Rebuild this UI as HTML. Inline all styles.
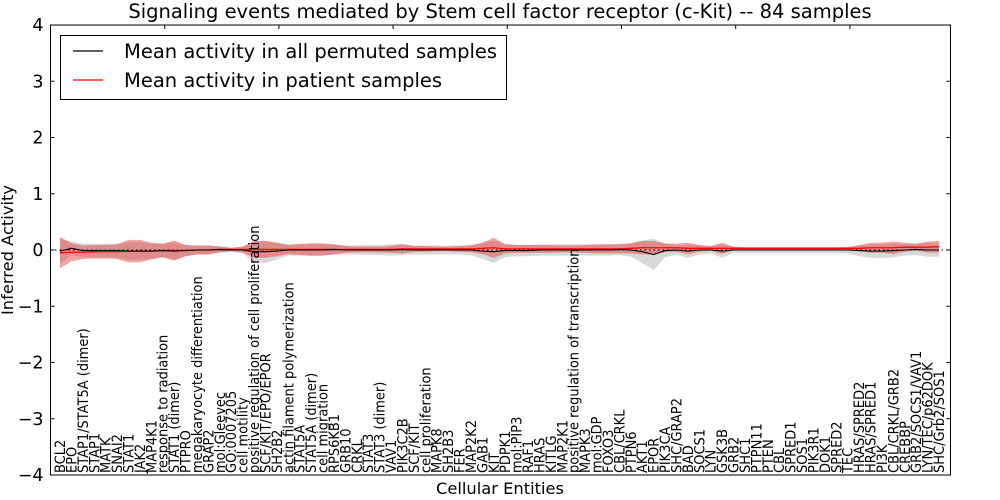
<!DOCTYPE html>
<html><head><meta charset="utf-8"><style>
html,body{margin:0;padding:0;background:#fff;}
svg{display:block;font-family:"DejaVu Sans","Liberation Sans",sans-serif;}
</style></head><body>
<svg id="chart" width="1000" height="500" viewBox="0 0 1000 500" xmlns="http://www.w3.org/2000/svg">
<rect x="0" y="0" width="1000" height="500" fill="#fff"/>
<text x="500" y="18" text-anchor="middle" font-size="19.5">Signaling events mediated by Stem cell factor receptor (c-Kit) -- 84 samples</text>
<g id="bands"></g>
<g id="lines"></g>
<g id="axes"></g>
<g id="xlabels"></g>
<text x="500" y="494" text-anchor="middle" font-size="16.3">Cellular Entities</text>
<text transform="translate(13,250) rotate(-90)" text-anchor="middle" font-size="16.3">Inferred Activity</text>
<g>
<rect x="60.5" y="35.5" width="446" height="64" fill="#fff" stroke="#000" stroke-width="1"/>
<line x1="73" y1="51" x2="103" y2="51" stroke="#000" stroke-width="1.2"/>
<text x="124" y="58" font-size="19.5">Mean activity in all permuted samples</text>
<line x1="73" y1="80" x2="103" y2="80" stroke="#f00" stroke-width="1.2"/>
<text x="124" y="87" font-size="19.5">Mean activity in patient samples</text>
</g>
</svg>
<script>
const categories = ["BCL2","EPO","STAP1/STAT5A (dimer)","STAP1","MATK","SNAI2","STAT1","JAK2","MAP4K1","response to radiation","STAT1 (dimer)","PTPRO","megakaryocyte differentiation","GRAP2","mol:Gleevec","GO:0007205","cell motility","positive regulation of cell proliferation","SCF/KIT/EPO/EPOR","SH2B2","actin filament polymerization","STAT5A","STAT5A (dimer)","cell migration","RPS6KB1","GRB10","CRKL","STAT3","STAT3 (dimer)","VAV1","PIK3C2B","SCF/KIT","cell proliferation","MAPK8","SH2B3","FER","MAP2K2","GAB1","KIT","PDPK1","mol:PIP3","RAF1","HRAS","KITLG","MAP2K1","positive regulation of transcription","MAPK3","mol:GDP","FOXO3","CBL/CRKL","PTPN6","AKT1","EPOR","PIK3CA","SHC/GRAP2","BAD","SOCS1","LYN","GSK3B","GRB2","SHC1","PTPN11","PTEN","CBL","SPRED1","SOS1","PIK3R1","DOK1","SPRED2","TEC","HRAS/SPRED2","HRAS/SPRED1","PI3K","CBL/CRKL/GRB2","CREBBP","GRB2/SOCS1/VAV1","LYN/TEC/p62DOK","SHC/Grb2/SOS1"];
const patientMean = [-0.05,-0.04,-0.04,-0.03,-0.03,-0.03,-0.02,-0.02,-0.02,-0.01,-0.01,-0.01,0,0,0.01,0.01,0.01,0.01,0.01,0.01,0.01,0.01,0.01,0.01,0.01,0.01,0.01,0.01,0.01,0.01,0.02,0.02,0.02,0.02,0.02,0.02,0.02,0.03,0.04,0.02,0.02,0.02,0.02,0.02,0.02,0.02,0.02,0.02,0.02,0.02,0.03,0.04,0.04,0.04,0.04,0.03,0.03,0.03,0.03,0.03,0.03,0.03,0.03,0.03,0.03,0.03,0.03,0.03,0.03,0.03,0.03,0.04,0.04,0.04,0.05,0.05,0.05,0.06];
const patientSpread = [0.28,0.16,0.12,0.12,0.12,0.13,0.2,0.2,0.15,0.12,0.18,0.1,0.08,0.08,0.05,0.03,0.05,0.15,0.15,0.12,0.08,0.1,0.11,0.11,0.09,0.06,0.05,0.05,0.05,0.06,0.08,0.05,0.05,0.04,0.04,0.05,0.06,0.1,0.18,0.08,0.07,0.07,0.07,0.07,0.06,0.06,0.07,0.08,0.08,0.08,0.09,0.12,0.12,0.08,0.07,0.1,0.06,0.04,0.1,0.03,0.02,0.02,0.02,0.02,0.02,0.02,0.02,0.02,0.02,0.02,0.05,0.09,0.09,0.11,0.08,0.06,0.1,0.1];
const permutedMean = [-0.02,0.03,-0.01,-0.01,-0.01,-0.01,-0.02,-0.02,-0.02,-0.01,-0.02,-0.01,0,0,0.01,0,0,-0.03,-0.03,-0.02,0,0,0,0,0.01,0,0,0,0,0,0.01,0,0,0,0,0,0,-0.02,-0.03,-0.01,-0.01,-0.01,0,0,0,0,0,0,0,0.01,0,-0.03,-0.08,-0.01,0,-0.02,0,0,-0.02,0,0,0,0,0,0,0,0,0,0,0,-0.01,-0.02,-0.02,-0.01,0,0.01,0,0];
const permutedSpread = [0.22,0.12,0.12,0.12,0.12,0.12,0.16,0.16,0.13,0.12,0.15,0.1,0.08,0.08,0.06,0.04,0.06,0.18,0.2,0.15,0.1,0.1,0.1,0.1,0.09,0.08,0.08,0.09,0.09,0.1,0.1,0.08,0.08,0.08,0.08,0.08,0.09,0.14,0.2,0.12,0.1,0.1,0.1,0.1,0.1,0.1,0.1,0.1,0.1,0.1,0.12,0.2,0.28,0.12,0.08,0.12,0.08,0.06,0.12,0.05,0.05,0.05,0.05,0.05,0.05,0.05,0.05,0.05,0.05,0.06,0.1,0.12,0.12,0.12,0.1,0.1,0.12,0.12];
const yTicks = [-4,-3,-2,-1,0,1,2,3,4];
const yTickLabels = ["\u22124","\u22123","\u22122","\u22121","0","1","2","3","4"];

const NS = "http://www.w3.org/2000/svg";
const L = 50.5, R = 950.5, T = 25, B = 475;
const xScale = i => 60 + i * (879 / (categories.length - 1));
const yScale = v => 250 - v * 56.25;
function mk(tag, attrs, parent) {
  const e = document.createElementNS(NS, tag);
  for (const k in attrs) e.setAttribute(k, attrs[k]);
  parent.appendChild(e);
  return e;
}
function bandPath(mean, spread) {
  let up = mean.map((m, i) => xScale(i).toFixed(2) + "," + yScale(m + spread[i]).toFixed(2));
  let dn = mean.map((m, i) => xScale(i).toFixed(2) + "," + yScale(m - spread[i]).toFixed(2)).reverse();
  return "M" + up.join("L") + "L" + dn.join("L") + "Z";
}
function linePath(mean) {
  return "M" + mean.map((m, i) => xScale(i).toFixed(2) + "," + yScale(m).toFixed(2)).join("L");
}
const bands = document.getElementById("bands");
const gb = mk("path", {d: bandPath(permutedMean, permutedSpread), fill: "#c8c8c8", "fill-opacity": "0.7", stroke: "none"}, bands);


const rb = mk("path", {d: bandPath(patientMean, patientSpread), fill: "#e83030", "fill-opacity": "0.45", stroke: "none"}, bands);



const lines = document.getElementById("lines");
const zl = mk("line", {x1: L, x2: R, y1: yScale(0), y2: yScale(0), stroke: "#000", "stroke-width": "1", "stroke-dasharray": "1.5,3"}, lines);


const rl = mk("path", {d: linePath(patientMean), fill: "none", stroke: "#f00", "stroke-width": "1.3"}, lines);


const bl = mk("path", {d: linePath(permutedMean), fill: "none", stroke: "#000", "stroke-width": "1.1"}, lines);



const axes = document.getElementById("axes");
const fr = mk("rect", {x: L, y: T, width: R - L, height: B - T, fill: "none", stroke: "#000", "stroke-width": "1"}, axes);


yTicks.forEach((v, k) => {
  const y = yScale(v);
  const t1 = mk("line", {x1: L, x2: L + 4, y1: y, y2: y, stroke: "#000"}, axes);
  
  
  const t2 = mk("line", {x1: R, x2: R - 4, y1: y, y2: y, stroke: "#000"}, axes);
  
  
  const tx = mk("text", {x: L - 7, y: y + 6, "text-anchor": "end", "font-size": "17.5"}, axes);
  tx.textContent = yTickLabels[k];
  
  
});
for (let k = 1; k <= 7; k++) {
  const x = L + k * 114.2;
  const t = mk("line", {x1: x, x2: x, y1: T, y2: T + 4, stroke: "#000"}, axes);
  
  
}
const xl = document.getElementById("xlabels");
categories.forEach((c, i) => {
  const x = xScale(i) + 5;
  const t = mk("text", {transform: "translate(" + x.toFixed(2) + ",473) rotate(-90) scale(1,1.08)", "font-size": "13"}, xl);
  t.textContent = c;
  
  
});
</script>
</body></html>
